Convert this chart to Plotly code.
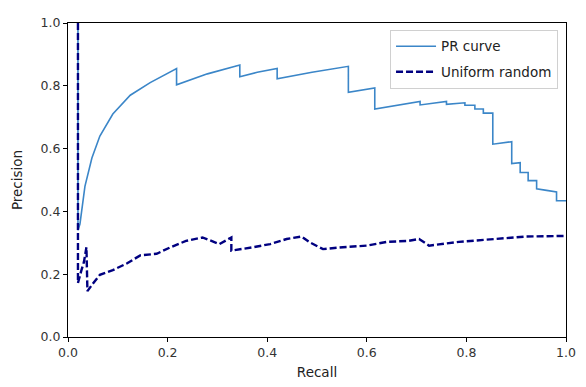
import plotly.graph_objects as go

# PR curve (recall, precision)
pr_recall = [0.02, 0.02, 0.024, 0.034, 0.048, 0.064, 0.09, 0.125, 0.165, 0.218,
             0.218, 0.28, 0.345, 0.345, 0.38, 0.42, 0.42, 0.49, 0.563, 0.563,
             0.616, 0.616, 0.707, 0.707, 0.760, 0.760, 0.797, 0.797, 0.817, 0.817,
             0.834, 0.834, 0.853, 0.853, 0.891, 0.891, 0.908, 0.908, 0.924, 0.924,
             0.941, 0.941, 0.961, 0.981, 0.981, 1.0]
pr_precision = [1.0, 0.34, 0.36, 0.48, 0.57, 0.64, 0.71, 0.77, 0.81, 0.855,
                0.803, 0.838, 0.866, 0.829, 0.843, 0.855, 0.822, 0.843, 0.862, 0.779,
                0.793, 0.726, 0.750, 0.739, 0.750, 0.741, 0.746, 0.738, 0.738, 0.726,
                0.726, 0.713, 0.713, 0.614, 0.622, 0.552, 0.555, 0.524, 0.524, 0.498,
                0.498, 0.472, 0.467, 0.462, 0.434, 0.434]

# Uniform random baseline
rnd_recall = [0.02, 0.02, 0.027, 0.032, 0.037, 0.039, 0.051, 0.064, 0.09, 0.118,
              0.145, 0.178, 0.206, 0.237, 0.27, 0.304, 0.328, 0.328, 0.372, 0.406,
              0.439, 0.469, 0.486, 0.512, 0.552, 0.6, 0.64, 0.683, 0.705, 0.725,
              0.785, 0.854, 0.92, 1.0]
rnd_precision = [1.0, 0.172, 0.213, 0.239, 0.286, 0.146, 0.172, 0.198, 0.213, 0.234,
                 0.26, 0.265, 0.286, 0.306, 0.317, 0.296, 0.317, 0.275, 0.286, 0.296,
                 0.312, 0.32, 0.301, 0.28, 0.286, 0.291, 0.303, 0.306, 0.312, 0.291,
                 0.303, 0.312, 0.32, 0.322]

tick_vals = [0.0, 0.2, 0.4, 0.6, 0.8, 1.0]
tick_text = ["0.0", "0.2", "0.4", "0.6", "0.8", "1.0"]

fig = go.Figure()
fig.add_trace(go.Scatter(x=pr_recall, y=pr_precision, mode="lines", name="PR curve",
                         legendgroup="a",
                         line=dict(color="#3b86c8", width=1.6)))
fig.add_trace(go.Scatter(x=rnd_recall, y=rnd_precision, mode="lines", name="Uniform random",
                         legendgroup="b",
                         line=dict(color="#000080", width=2.4, dash="7px,3px")))

axis_common = dict(showline=True, linecolor="black", linewidth=1, mirror=True,
                   ticks="outside", ticklen=4, tickcolor="black", showgrid=False,
                   zeroline=False, tickfont=dict(family="DejaVu Sans", size=12.5, color="#333"),
                   tickvals=tick_vals, ticktext=tick_text, ticklabeloverflow="allow")

fig.update_layout(
    width=586, height=387,
    margin=dict(l=60, r=28, t=7, b=58),
    paper_bgcolor="white", plot_bgcolor="white",
    font=dict(family="DejaVu Sans", size=12, color="#222"),
    xaxis=dict(range=[0, 1], title=dict(text="Recall", standoff=8,
               font=dict(family="DejaVu Sans", size=13.5, color="#222")), **axis_common),
    yaxis=dict(range=[0, 1], title=dict(text="Precision", standoff=14,
               font=dict(family="DejaVu Sans", size=13.5, color="#222")), **axis_common),
    legend=dict(x=0.984, y=0.978, xanchor="right", yanchor="top",
                bgcolor="rgba(255,255,255,0.85)", bordercolor="#d0d0d0", borderwidth=1,
                font=dict(family="DejaVu Sans", size=13.5, color="#222"),
                tracegroupgap=5, itemwidth=40),
    showlegend=True,
)

fig.write_html("out.html")
